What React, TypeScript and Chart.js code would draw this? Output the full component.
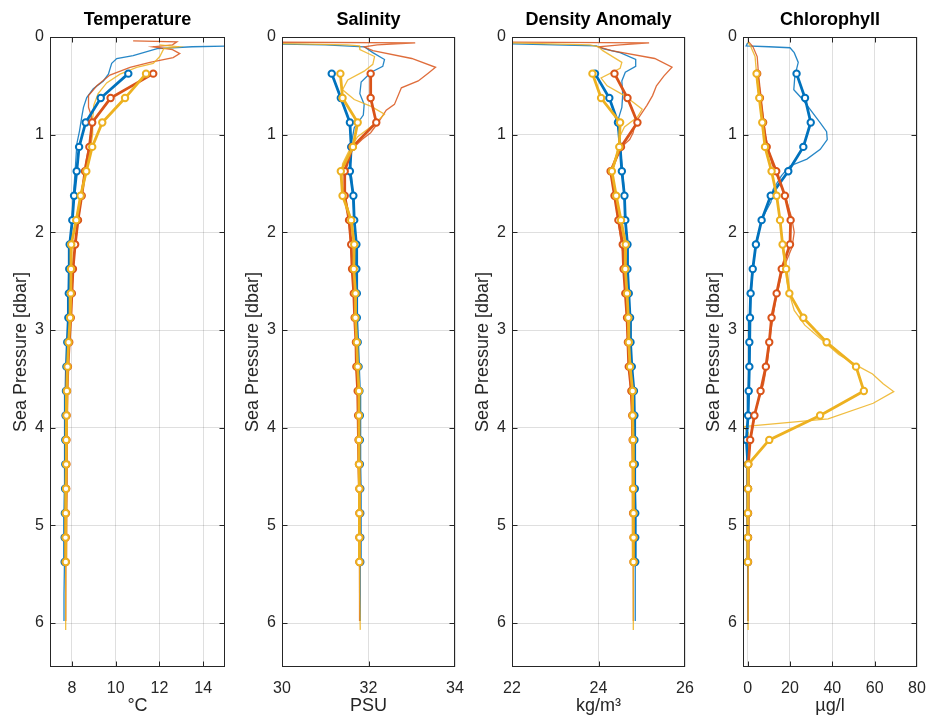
import React, { useEffect, useRef } from "react";
import { Chart, registerables } from "chart.js";
Chart.register(...registerables);

// ---------- colours ----------
const BLUE = "#0072BD";
const ORANGE = "#D95319";
const YELLOW = "#EDB120";
const BLUE_THIN = "rgba(0,114,189,0.85)";
const ORANGE_THIN = "rgba(217,83,25,0.85)";
const YELLOW_THIN = "rgba(237,177,32,0.85)";

// ---------- binned pressure levels (dbar) ----------
const BIN_P = [0.375, 0.625, 0.875, 1.125, 1.375, 1.625, 1.875, 2.125, 2.375, 2.625, 2.875, 3.125, 3.375, 3.625, 3.875, 4.125, 4.375, 4.625, 4.875, 5.125, 5.375];
const Y_TICKS = [0, 1, 2, 3, 4, 5, 6];

// ---------- Temperature (°C) ----------
const TEMP_TICKS = [8, 10, 12, 14];
const tempBinBlue = [10.58, 9.32, 8.63, 8.33, 8.22, 8.1, 8.02, 7.9, 7.88, 7.86, 7.84, 7.79, 7.75, 7.73, 7.71, 7.7, 7.7, 7.69, 7.68, 7.67, 7.67];
const tempBinOrange = [11.72, 9.77, 8.93, 8.8, 8.6, 8.45, 8.28, 8.15, 8.05, 8.0, 7.95, 7.88, 7.82, 7.78, 7.76, 7.75, 7.75, 7.74, 7.73, 7.72, 7.72];
const tempBinYellow = [11.39, 10.43, 9.39, 8.93, 8.66, 8.4, 8.2, 7.97, 7.96, 7.95, 7.92, 7.85, 7.8, 7.77, 7.75, 7.74, 7.74, 7.73, 7.72, 7.71, 7.72];
// raw profiles: [pressure, value]
const tempRawBlue: [number, number][] = [[0.07, 16], [0.09, 15.5], [0.1, 13.5], [0.12, 11.9], [0.19, 10.8], [0.22, 10.05], [0.27, 9.82], [0.38, 9.67], [0.45, 9.44], [0.53, 8.98], [0.62, 8.68], [0.72, 8.53], [0.82, 8.45], [0.96, 8.35], [1.09, 8.23], [1.3, 8.17], [1.6, 8.08], [1.9, 8.0], [2.2, 7.9], [2.6, 7.86], [3.0, 7.82], [3.4, 7.75], [3.8, 7.71], [4.2, 7.7], [4.6, 7.68], [5.0, 7.67], [5.4, 7.65], [5.7, 7.64], [5.98, 7.64]];
const tempRawOrange: [number, number][] = [[0.04, 10.8], [0.05, 12.8], [0.08, 12.6], [0.1, 11.7], [0.13, 12.6], [0.17, 12.93], [0.21, 12.63], [0.26, 11.57], [0.31, 10.66], [0.39, 9.74], [0.5, 9.14], [0.6, 8.76], [0.72, 8.76], [0.82, 8.91], [0.95, 8.88], [1.1, 8.8], [1.3, 8.62], [1.6, 8.46], [1.9, 8.28], [2.2, 8.12], [2.6, 8.0], [3.0, 7.9], [3.4, 7.81], [3.8, 7.76], [4.2, 7.75], [4.6, 7.74], [5.0, 7.73], [5.4, 7.72], [5.98, 7.72]];
const tempRawYellow: [number, number][] = [[0.08, 12.0], [0.1, 12.9], [0.12, 12.2], [0.2, 12.02], [0.27, 11.72], [0.31, 10.96], [0.38, 10.2], [0.47, 9.59], [0.58, 9.2], [0.7, 9.0], [0.85, 8.95], [1.0, 8.95], [1.2, 8.8], [1.5, 8.5], [1.8, 8.25], [2.1, 8.0], [2.5, 7.96], [2.9, 7.9], [3.3, 7.8], [3.7, 7.75], [4.1, 7.74], [4.5, 7.74], [4.9, 7.72], [5.3, 7.71], [5.7, 7.72], [6.07, 7.72]];

// ---------- Salinity (PSU) ----------
const SAL_TICKS = [30, 32, 34];
const salBinBlue = [31.15, 31.36, 31.57, 31.6, 31.57, 31.65, 31.67, 31.72, 31.72, 31.73, 31.73, 31.75, 31.77, 31.79, 31.8, 31.8, 31.8, 31.81, 31.81, 31.81, 31.81];
const salBinOrange = [32.05, 32.05, 32.18, 31.63, 31.45, 31.45, 31.55, 31.6, 31.62, 31.66, 31.68, 31.71, 31.72, 31.75, 31.76, 31.77, 31.78, 31.79, 31.79, 31.79, 31.79];
const salBinYellow = [31.35, 31.4, 31.75, 31.64, 31.36, 31.4, 31.6, 31.67, 31.66, 31.7, 31.7, 31.73, 31.75, 31.78, 31.78, 31.78, 31.78, 31.79, 31.79, 31.79, 31.79];
const salRawBlue: [number, number][] = [[0.06, 28.0], [0.08, 31.0], [0.1, 31.9], [0.16, 32.1], [0.23, 32.37], [0.3, 32.33], [0.36, 32.06], [0.46, 31.83], [0.58, 31.8], [0.69, 31.9], [0.8, 31.88], [0.93, 31.67], [1.1, 31.6], [1.3, 31.58], [1.5, 31.62], [1.8, 31.66], [2.1, 31.7], [2.5, 31.72], [2.9, 31.73], [3.3, 31.76], [3.7, 31.79], [4.1, 31.8], [4.5, 31.81], [4.9, 31.81], [5.3, 31.81], [5.98, 31.81]];
const salRawOrange: [number, number][] = [[0.05, 28.0], [0.06, 33.08], [0.08, 32.2], [0.1, 31.9], [0.14, 32.1], [0.22, 33.0], [0.31, 33.55], [0.37, 33.38], [0.45, 33.15], [0.52, 32.76], [0.69, 32.6], [0.75, 32.41], [0.88, 32.22], [0.98, 32.05], [1.05, 31.85], [1.14, 31.64], [1.25, 31.5], [1.4, 31.45], [1.6, 31.45], [1.9, 31.55], [2.2, 31.6], [2.6, 31.66], [3.0, 31.7], [3.4, 31.72], [3.8, 31.76], [4.2, 31.78], [4.6, 31.79], [5.0, 31.79], [5.4, 31.79], [5.98, 31.8]];
const salRawYellow: [number, number][] = [[0.05, 28.0], [0.08, 31.5], [0.09, 31.79], [0.13, 31.8], [0.2, 32.14], [0.28, 32.1], [0.35, 31.9], [0.44, 31.52], [0.54, 31.4], [0.64, 31.67], [0.71, 32.06], [0.79, 32.37], [0.89, 32.14], [1.02, 31.75], [1.12, 31.6], [1.3, 31.4], [1.5, 31.38], [1.8, 31.55], [2.1, 31.66], [2.5, 31.68], [2.9, 31.7], [3.3, 31.74], [3.7, 31.78], [4.1, 31.78], [4.5, 31.78], [4.9, 31.79], [5.3, 31.79], [5.7, 31.8], [6.07, 31.81]];

// ---------- Density anomaly (kg/m³) ----------
const DEN_TICKS = [22, 24, 26];
const denBinBlue = [23.92, 24.25, 24.45, 24.5, 24.54, 24.6, 24.62, 24.67, 24.67, 24.7, 24.73, 24.74, 24.77, 24.82, 24.83, 24.83, 24.84, 24.84, 24.85, 24.85, 24.85];
const denBinOrange = [24.37, 24.67, 24.9, 24.52, 24.28, 24.37, 24.46, 24.56, 24.58, 24.62, 24.66, 24.68, 24.7, 24.76, 24.78, 24.79, 24.8, 24.8, 24.8, 24.81, 24.81];
const denBinYellow = [23.86, 24.06, 24.5, 24.48, 24.31, 24.41, 24.52, 24.63, 24.62, 24.66, 24.69, 24.7, 24.73, 24.79, 24.79, 24.8, 24.8, 24.8, 24.81, 24.81, 24.81];
const denRawBlue: [number, number][] = [[0.06, 21.0], [0.09, 23.95], [0.12, 24.1], [0.16, 24.5], [0.23, 24.86], [0.3, 24.86], [0.36, 24.62], [0.45, 24.54], [0.59, 24.56], [0.72, 24.54], [0.88, 24.43], [1.0, 24.48], [1.2, 24.52], [1.5, 24.58], [1.8, 24.62], [2.1, 24.66], [2.5, 24.68], [2.9, 24.72], [3.3, 24.76], [3.7, 24.81], [4.1, 24.83], [4.5, 24.84], [4.9, 24.85], [5.3, 24.85], [5.98, 24.85]];
const denRawOrange: [number, number][] = [[0.05, 21.0], [0.06, 25.17], [0.08, 24.5], [0.1, 24.0], [0.14, 24.3], [0.22, 25.3], [0.31, 25.7], [0.4, 25.51], [0.5, 25.34], [0.6, 25.25], [0.7, 25.12], [0.78, 25.0], [0.88, 24.85], [0.98, 24.8], [1.05, 24.72], [1.12, 24.55], [1.25, 24.4], [1.4, 24.3], [1.6, 24.37], [1.9, 24.46], [2.2, 24.56], [2.6, 24.62], [3.0, 24.67], [3.4, 24.71], [3.8, 24.77], [4.2, 24.79], [4.6, 24.8], [5.0, 24.8], [5.4, 24.81], [5.98, 24.81]];
const denRawYellow: [number, number][] = [[0.05, 21.0], [0.08, 23.8], [0.1, 24.0], [0.14, 24.1], [0.26, 24.54], [0.32, 24.5], [0.42, 24.06], [0.5, 24.2], [0.6, 24.6], [0.74, 25.01], [0.82, 24.9], [0.92, 24.6], [1.02, 24.49], [1.2, 24.42], [1.4, 24.3], [1.7, 24.43], [2.0, 24.55], [2.4, 24.62], [2.8, 24.67], [3.2, 24.71], [3.6, 24.77], [4.0, 24.79], [4.4, 24.8], [4.8, 24.8], [5.2, 24.81], [5.6, 24.81], [6.07, 24.8]];

// ---------- Chlorophyll (µg/l) ----------
const CHL_TICKS = [0, 20, 40, 60, 80];
const chlBinBlue = [23.1, 27.1, 29.8, 26.3, 19.2, 10.9, 6.6, 3.9, 2.4, 1.4, 1.1, 0.8, 0.8, 0.5, 0.2, -0.6, 0.1, 0.1, 0.1, 0.1, 0.1];
const chlBinOrange = [4.5, 5.8, 7.3, 9.0, 13.5, 17.6, 20.3, 20.0, 16.1, 13.7, 11.3, 10.2, 8.6, 6.1, 3.2, 1.2, 0.3, 0.2, 0.2, 0.2, 0.2];
const chlBinYellow = [4.2, 5.5, 6.9, 8.2, 11.3, 13.7, 15.3, 16.5, 18.2, 19.7, 26.3, 37.3, 51.2, 54.9, 34.2, 10.2, 0.3, 0.2, 0.1, 0.1, 0.1];
const chlRawBlue: [number, number][] = [[0.06, 0.0], [0.09, -0.7], [0.1, 10], [0.11, 20], [0.16, 22], [0.26, 23.9], [0.4, 22.3], [0.54, 21.8], [0.63, 25.6], [0.74, 29.5], [0.88, 34.3], [0.97, 37.3], [1.05, 37.6], [1.15, 34.3], [1.25, 28], [1.32, 20], [1.42, 16], [1.56, 12], [1.69, 11], [1.85, 7], [2.1, 4], [2.4, 2.4], [2.7, 1.4], [3.0, 1.0], [3.4, 0.8], [3.8, 0.4], [4.1, -0.3], [4.4, 0.1], [5.0, 0.1], [5.5, 0.1], [5.98, 0.1]];
const chlRawOrange: [number, number][] = [[0.05, 0.5], [0.1, 2.5], [0.2, 4.5], [0.4, 5.2], [0.7, 6.8], [1.0, 8.3], [1.3, 11.5], [1.6, 17.3], [1.85, 20.8], [2.0, 22], [2.15, 21], [2.4, 16.3], [2.7, 13.2], [3.0, 11], [3.3, 9.5], [3.55, 7.5], [3.8, 4], [4.1, 1.5], [4.35, 0.3], [4.8, 0.2], [5.4, 0.2], [5.98, 0.2]];
const chlRawYellow: [number, number][] = [[0.05, 0.0], [0.1, 1.5], [0.2, 3.5], [0.4, 4.3], [0.7, 6], [1.0, 7.5], [1.3, 10.5], [1.6, 13.5], [1.9, 15.5], [2.2, 16.8], [2.5, 18.5], [2.65, 20], [2.8, 22], [2.95, 27], [3.1, 35], [3.25, 43], [3.38, 53], [3.45, 59], [3.55, 64], [3.63, 69], [3.75, 59.3], [3.91, 38], [3.99, -2], [4.05, 0.3], [4.5, 0.2], [5.0, 0.2], [5.5, 0.2], [6.07, 0.3]];

// ---------- layout ----------
const W_PAGE = 932;
const H_PAGE = 715;
const TOP = 37;
const BOTTOM = 667;
const Y_AXIS_W = 44;
const PAD_LEFT = 6;
const PAD_RIGHT = 14;
const FONT = "'Liberation Sans', Arial, Helvetica, sans-serif";
const TEXT = "#262626";
const GRID = "rgba(38,38,38,0.15)";

type Panel = {
  title: string;
  xlabel: string;
  xmin: number;
  xmax: number;
  xticks: number[];
  left: number;
  width: number;
  bins: number[][];
  raws: [number, number][][];
};

const PANELS: Panel[] = [
  { title: "Temperature", xlabel: "°C", xmin: 7, xmax: 15, xticks: TEMP_TICKS, left: 50, width: 175,
    bins: [tempBinBlue, tempBinOrange, tempBinYellow], raws: [tempRawBlue, tempRawOrange, tempRawYellow] },
  { title: "Salinity", xlabel: "PSU", xmin: 30, xmax: 34, xticks: SAL_TICKS, left: 282, width: 173,
    bins: [salBinBlue, salBinOrange, salBinYellow], raws: [salRawBlue, salRawOrange, salRawYellow] },
  { title: "Density Anomaly", xlabel: "kg/m³", xmin: 22, xmax: 26, xticks: DEN_TICKS, left: 512, width: 173,
    bins: [denBinBlue, denBinOrange, denBinYellow], raws: [denRawBlue, denRawOrange, denRawYellow] },
  { title: "Chlorophyll", xlabel: "µg/l", xmin: -2.2, xmax: 80, xticks: CHL_TICKS, left: 743, width: 174,
    bins: [chlBinBlue, chlBinOrange, chlBinYellow], raws: [chlRawBlue, chlRawOrange, chlRawYellow] },
];
const COLORS = [BLUE, ORANGE, YELLOW];
const THIN_COLORS = [BLUE_THIN, ORANGE_THIN, YELLOW_THIN];

const framePlugin = {
  id: "matlabFrame",
  afterDatasetsDraw(chart: any) {
    const { ctx, chartArea } = chart;
    const { left, right, top, bottom } = chartArea;
    const xs = chart.scales.x;
    const ys = chart.scales.y;
    ctx.save();
    ctx.strokeStyle = TEXT;
    ctx.lineWidth = 1;
    const l = Math.round(left) + 0.5, r = Math.round(right) - 0.5;
    const t = Math.round(top) + 0.5, b = Math.round(bottom) - 0.5;
    ctx.strokeRect(l, t, r - l, b - t);
    ctx.beginPath();
    const TL = 5;
    xs.ticks.forEach((tk: any) => {
      const px = Math.round(xs.getPixelForValue(tk.value)) + 0.5;
      if (px <= l + 1 || px >= r - 1) return;
      ctx.moveTo(px, b); ctx.lineTo(px, b - TL);
      ctx.moveTo(px, t); ctx.lineTo(px, t + TL);
    });
    ys.ticks.forEach((tk: any) => {
      const py = Math.round(ys.getPixelForValue(tk.value)) + 0.5;
      if (py <= t + 1 || py >= b - 1) return;
      ctx.moveTo(l, py); ctx.lineTo(l + TL, py);
      ctx.moveTo(r, py); ctx.lineTo(r - TL, py);
    });
    ctx.stroke();
    // panel title
    const title = chart.options.plugins.panelTitle?.text;
    if (title) {
      ctx.fillStyle = "#000";
      ctx.font = `bold 18px ${FONT}`;
      ctx.textAlign = "center";
      ctx.textBaseline = "middle";
      ctx.fillText(title, (left + right) / 2, 20);
    }
    ctx.restore();
  },
};

function PanelChart({ p }: { p: Panel }) {
  const ref = useRef<HTMLCanvasElement | null>(null);
  const cw = Y_AXIS_W + PAD_LEFT + p.width + PAD_RIGHT;
  useEffect(() => {
    if (!ref.current) return;
    const rawSets = p.raws.map((raw, i) => ({
      data: raw.map(([pr, v]) => ({ x: v, y: pr })),
      borderColor: THIN_COLORS[i],
      borderWidth: 1.3,
      pointRadius: 0,
      tension: 0,
      order: 8 - i,
    }));
    const binSets = p.bins.map((vals, i) => ({
      data: BIN_P.map((pr, k) => ({ x: vals[k], y: pr })),
      borderColor: COLORS[i],
      borderWidth: 2.8,
      pointRadius: 3.2,
      pointBorderWidth: 2,
      pointBackgroundColor: "#ffffff",
      pointBorderColor: COLORS[i],
      tension: 0,
      order: 2 - i,
    }));
    const tickFont = { family: FONT, size: 16 };
    const labelFont = { family: FONT, size: 18, lineHeight: 1.0 };
    const chart = new Chart(ref.current, {
      type: "line",
      data: { datasets: [...rawSets, ...binSets] as any },
      options: {
        animation: false,
        responsive: false,
        maintainAspectRatio: false,
        events: [],
        layout: { padding: { top: TOP, left: PAD_LEFT, right: PAD_RIGHT, bottom: 0 } },
        plugins: {
          legend: { display: false },
          tooltip: { enabled: false },
          title: { display: false },
          panelTitle: { text: p.title },
        } as any,
        scales: {
          x: {
            type: "linear",
            position: "bottom",
            min: p.xmin,
            max: p.xmax,
            afterBuildTicks: (s: any) => { s.ticks = p.xticks.map((v) => ({ value: v })); },
            afterFit: (s: any) => {
              s.height = H_PAGE - BOTTOM;
              s.paddingLeft = 0;
              s.paddingRight = 0;
            },
            grid: { color: GRID, drawTicks: false, lineWidth: 1 },
            border: { display: false },
            ticks: { font: tickFont, color: TEXT, padding: 12, maxRotation: 0, autoSkip: false, callback: (v: any) => String(v) },
            title: { display: true, text: p.xlabel, font: labelFont, color: TEXT, padding: { top: 0, bottom: 0 } },
          },
          y: {
            type: "linear",
            position: "left",
            min: 0,
            max: 6.45,
            reverse: true,
            afterBuildTicks: (s: any) => { s.ticks = Y_TICKS.map((v) => ({ value: v })); },
            afterFit: (s: any) => {
              s.width = Y_AXIS_W;
              s.paddingTop = 0;
              s.paddingBottom = 0;
            },
            grid: { color: GRID, drawTicks: false, lineWidth: 1 },
            border: { display: false },
            ticks: { font: tickFont, color: TEXT, padding: 6, autoSkip: false, callback: (v: any) => String(v) },
            title: { display: true, text: "Sea Pressure [dbar]", font: { family: FONT, size: 18 }, color: TEXT, padding: { top: 4, bottom: 0 } },
          },
        },
      } as any,
      plugins: [framePlugin],
    });
    return () => chart.destroy();
  }, []);
  return (
    <canvas
      ref={ref}
      width={cw}
      height={H_PAGE}
      style={{ position: "absolute", left: p.left - Y_AXIS_W - PAD_LEFT, top: 0, width: cw, height: H_PAGE }}
    />
  );
}

export default function App() {
  return (
    <div style={{ position: "fixed", left: 0, top: 0, width: W_PAGE, height: H_PAGE, background: "#fff", overflow: "hidden" }}>
      {PANELS.map((p) => (
        <PanelChart key={p.title} p={p} />
      ))}
    </div>
  );
}
